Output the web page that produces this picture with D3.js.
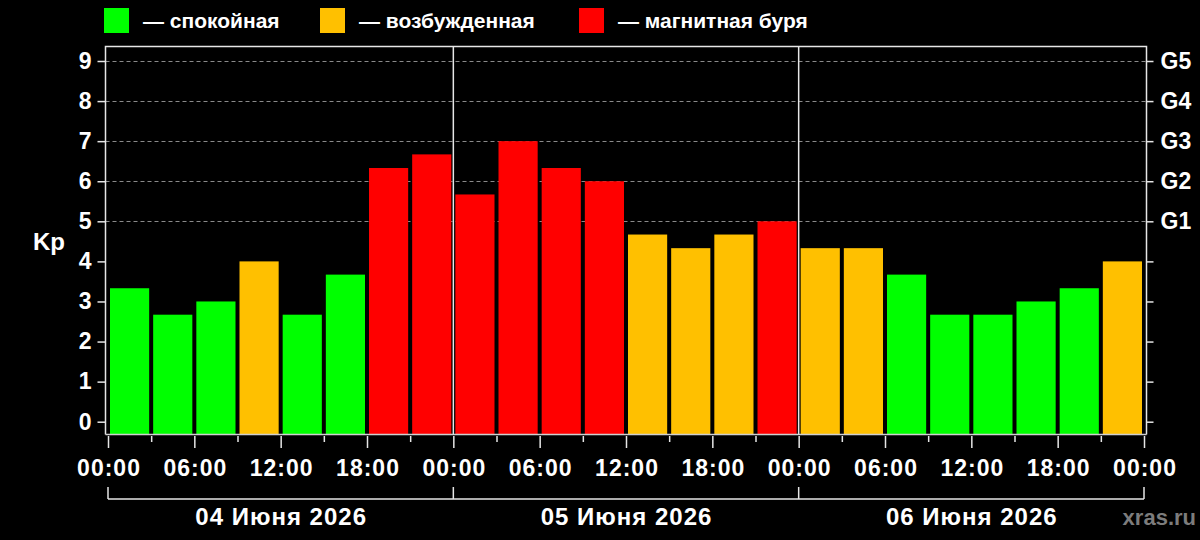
<!DOCTYPE html>
<html>
<head>
<meta charset="utf-8">
<script src="https://cdn.jsdelivr.net/npm/d3@7"></script>
<style>
  body { margin: 0; background: #000; }
  svg { display: block; font-family: "Liberation Sans", Arial, sans-serif; font-weight: bold; }
</style>
</head>
<body>
<div id="chart"></div>
<script>
// Kp index, 3-hour intervals, 04-06 June 2026
const startDay = Date.UTC(2026, 5, 4);
const kpValues = [
  3.33, 2.67, 3.0, 4.0, 2.67, 3.67, 6.33, 6.67,
  5.67, 7.0, 6.33, 6.0, 4.67, 4.33, 4.67, 5.0,
  4.33, 4.33, 3.67, 2.67, 2.67, 3.0, 3.33, 4.0
];
const dayLabels = ["04 Июня 2026", "05 Июня 2026", "06 Июня 2026"];
const kpTicks = [0, 1, 2, 3, 4, 5, 6, 7, 8, 9];
const gridValues = [5, 6, 7, 8, 9];
const gLabels = ["G1", "G2", "G3", "G4", "G5"];
const legendNames = ["— спокойная", "— возбужденная", "— магнитная буря"];
const legendColors = ["#00ff00", "#ffc000", "#ff0000"];

const HOUR = 3600 * 1000;
const width = 1200, height = 540;
const frame = {left: 105.5, right: 1146.5, top: 46.5, bottom: 434.5};

const svg = d3.select("#chart").append("svg")
    .attr("width", width)
    .attr("height", height);

svg.append("rect").attr("width", width).attr("height", height).attr("fill", "#000");

var x = d3.scaleUtc()
    .domain([new Date(startDay), new Date(startDay + 72 * HOUR)])
    .range([108, 1144]);

var y = d3.scaleLinear()
    .domain([0, 9])
    .range([421.7, 61]);

function kpColor(v) {
  if (v >= 5) return legendColors[2];
  if (v >= 4) return legendColors[1];
  return legendColors[0];
}

// grid lines
svg.append("g").selectAll("line").data(gridValues)
  .enter().append("line")
    .attr("x1", frame.left).attr("x2", frame.right)
    .attr("y1", d => Math.round(y(d)) + 0.5).attr("y2", d => Math.round(y(d)) + 0.5)
    .attr("stroke", "#8a8a8a")
    .attr("stroke-width", 1)
    .attr("stroke-dasharray", "4,3");

// bars
svg.append("g").selectAll("rect").data(kpValues)
  .enter().append("rect")
    .attr("x", (d, i) => x(new Date(startDay + i * 3 * HOUR)) + 2)
    .attr("width", (d, i) => x(new Date(startDay + (i + 1) * 3 * HOUR)) - x(new Date(startDay + i * 3 * HOUR)) - 4)
    .attr("y", d => y(d))
    .attr("height", d => frame.bottom - y(d))
    .attr("fill", d => kpColor(d));

// frame + day separators
const lineColor = "#e6e6e6";
const fr = svg.append("g").attr("stroke", lineColor).attr("stroke-width", 1.5).attr("fill", "none");
fr.append("path").attr("d", `M${frame.left},${frame.bottom}V${frame.top}H${frame.right}V${frame.bottom}`);
fr.append("line").attr("x1", frame.left).attr("x2", frame.right)
    .attr("y1", frame.bottom).attr("y2", frame.bottom).attr("stroke", "#cfcfcf");
[1, 2].forEach(d => {
  const xd = x(new Date(startDay + d * 24 * HOUR));
  fr.append("line").attr("x1", xd).attr("x2", xd).attr("y1", frame.top).attr("y2", frame.bottom);
});

// left axis
const leftAxis = svg.append("g")
    .attr("transform", `translate(${frame.left},0)`)
    .call(d3.axisLeft(y).tickValues(kpTicks).tickSize(8).tickPadding(6));
leftAxis.select(".domain").remove();
leftAxis.selectAll("line").attr("stroke", lineColor).attr("stroke-width", 1.5);
leftAxis.selectAll("text").attr("fill", "#fff").attr("font-size", 23).attr("font-family", null);

// right axis (G levels)
const rightAxis = svg.append("g")
    .attr("transform", `translate(${frame.right},0)`)
    .call(d3.axisRight(y).tickValues(kpTicks).tickSize(7).tickPadding(7)
      .tickFormat(d => d >= 5 ? gLabels[d - 5] : ""));
rightAxis.select(".domain").remove();
rightAxis.selectAll("line").attr("stroke", lineColor).attr("stroke-width", 1.5);
rightAxis.selectAll("text").attr("fill", "#fff").attr("font-size", 23).attr("font-family", null);

svg.append("text")
    .attr("x", 49).attr("y", 242).attr("dy", "0.35em")
    .attr("text-anchor", "middle")
    .attr("fill", "#fff").attr("font-size", 24)
    .text("Kp");

// bottom time axis
const bottomAxis = svg.append("g")
    .attr("transform", `translate(0,${frame.bottom + 1.5})`)
    .call(d3.axisBottom(x).ticks(d3.utcHour.every(3)).tickSize(12).tickPadding(12)
      .tickFormat(d => d.getUTCHours() % 6 == 0 ? d3.utcFormat("%H:%M")(d) : ""));
bottomAxis.select(".domain").remove();
bottomAxis.selectAll("line")
    .attr("stroke", lineColor).attr("stroke-width", 1.5)
    .attr("y2", d => d.getUTCHours() % 6 == 0 ? 12 : 6);
bottomAxis.selectAll("text").attr("fill", "#fff").attr("font-size", 23).attr("font-family", null)
    .attr("letter-spacing", 1).attr("dx", 0.5);

// day bracket
const br = svg.append("g").attr("stroke", lineColor).attr("stroke-width", 1.5).attr("fill", "none");
br.append("line").attr("x1", x.range()[0]).attr("x2", x.range()[1]).attr("y1", 499).attr("y2", 499);
[0, 1, 2, 3].forEach(d => {
  const xd = x(new Date(startDay + d * 24 * HOUR));
  br.append("line").attr("x1", xd).attr("x2", xd).attr("y1", 487).attr("y2", 499);
});
svg.append("g").selectAll("text").data(dayLabels)
  .enter().append("text")
    .attr("x", (d, i) => x(new Date(startDay + (i * 24 + 12) * HOUR)) + 0.5)
    .attr("y", 517).attr("dy", "0.35em")
    .attr("text-anchor", "middle")
    .attr("fill", "#fff").attr("font-size", 24)
    .attr("letter-spacing", 1)
    .text(d => d);

// watermark
svg.append("text")
    .attr("x", 1196).attr("y", 517).attr("dy", "0.35em")
    .attr("text-anchor", "end")
    .attr("fill", "#7c7c7c").attr("font-size", 22)
    .text("xras.ru");

// legend
const legendX = [104, 320, 579];
const legend = svg.append("g").selectAll("g").data(legendNames)
  .enter().append("g")
    .attr("transform", (d, i) => `translate(${legendX[i]},8)`);
legend.append("rect").attr("width", 25).attr("height", 25).attr("fill", (d, i) => legendColors[i]);
legend.append("text")
    .attr("x", 39).attr("y", 12.5).attr("dy", "0.35em")
    .attr("fill", "#fff").attr("font-size", 21)
    .text(d => d);
</script>
</body>
</html>
